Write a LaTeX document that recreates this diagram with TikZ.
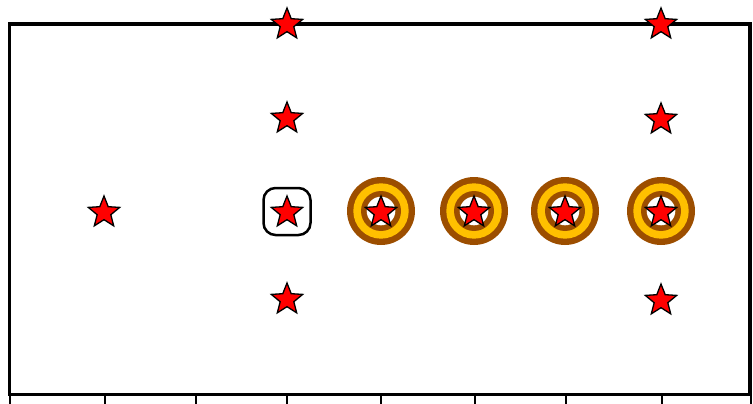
\documentclass[tikz,border=0pt]{standalone}
\usetikzlibrary{shapes.geometric}
\definecolor{ringbrown}{RGB}{156,78,0}
\definecolor{ringgold}{RGB}{255,192,0}
\tikzset{every picture/.style={line width=0.75pt}}
\begin{document}
\begin{tikzpicture}[x=1pt,y=-1pt,
  starnode/.style={star, star points=5, star point ratio=2.3, minimum size=33pt, inner sep=0pt, fill=red, draw=black, line width=1.3pt, yshift=-1.5pt},
  selbox/.style={draw, line width=2.5pt, rounded corners=12pt, minimum size=47pt, inner sep=0pt}]
\useasboundingbox (0,0) rectangle (753,404);

%Frame
\draw [line width=3.2pt] (9.5,24) rectangle (750,394.5);
%Ticks
\foreach \x in {10,105,196,287,381,475,566,662,751}
  \draw [line width=1.5pt] (\x,396) -- (\x,404);

%Targets
\coordinate (c1) at (381,211);
\coordinate (c2) at (474,211);
\coordinate (c3) at (565,211);
\coordinate (c4) at (661,211);
\foreach \c in {c1,c2,c3,c4} {
  \fill [ringbrown] (\c) circle (34);
  \fill [ringgold] (\c) circle (27.7);
  \fill [ringbrown] (\c) circle (20);
  \fill [white] (\c) circle (14.3);
}

%Stars
\node (s1) [starnode] at (104,211) {};
\node (s2) [starnode] at (287,23) {};
\node (s3) [starnode] at (287,117) {};
\node (s4) [starnode] at (287,211) {};
\node (s5) [starnode] at (287,298) {};
\node (s6) [starnode] at (c1) {};
\node (s7) [starnode] at (c2) {};
\node (s8) [starnode] at (c3) {};
\node (s9) [starnode] at (c4) {};
\node (s10) [starnode] at (661,23) {};
\node (s11) [starnode] at (661,118) {};
\node (s12) [starnode] at (661,299) {};

%Selection
\node (sel) [selbox] at (287,211.5) {};

\end{tikzpicture}
\end{document}
